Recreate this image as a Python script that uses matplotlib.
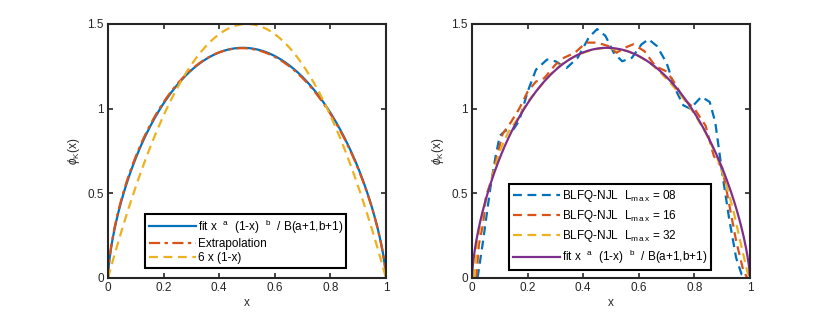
import numpy as np
import matplotlib
matplotlib.use('Agg')
import matplotlib.pyplot as plt
from math import gamma

plt.rcParams['font.family'] = ['Liberation Sans', 'DejaVu Sans']
plt.rcParams['mathtext.fontset'] = 'custom'
plt.rcParams['mathtext.rm'] = 'Liberation Sans'
plt.rcParams['mathtext.it'] = 'Liberation Sans:italic'

# fit parameters of x^a (1-x)^b / B(a+1,b+1)
fit_a, fit_b = 0.66, 0.70
extrap_a, extrap_b = 0.65, 0.70

# BLFQ-NJL curves
x08 = [0.02, 0.04, 0.065, 0.085, 0.10, 0.12, 0.15, 0.17, 0.20, 0.23, 0.27, 0.30, 0.34, 0.38, 0.42, 0.45,
       0.48, 0.51, 0.54, 0.575, 0.61, 0.635, 0.665, 0.70, 0.73, 0.76, 0.785, 0.825, 0.855, 0.875, 0.90,
       0.925, 0.95, 0.97, 0.99]
y08 = [0.0, 0.22, 0.52, 0.72, 0.84, 0.87, 0.88, 0.93, 1.10, 1.23, 1.29, 1.28, 1.24, 1.30, 1.42, 1.47,
       1.43, 1.33, 1.28, 1.30, 1.38, 1.41, 1.37, 1.27, 1.12, 1.02, 1.00, 1.07, 1.04, 0.92, 0.62,
       0.35, 0.12, 0.02, 0.0]
x16 = [0.015, 0.025, 0.04, 0.05, 0.07, 0.09, 0.11, 0.14, 0.17, 0.20, 0.23, 0.26, 0.30, 0.33, 0.37, 0.41,
       0.45, 0.49, 0.52, 0.55, 0.58, 0.62, 0.66, 0.70, 0.73, 0.76, 0.80, 0.84, 0.87, 0.90, 0.92, 0.95,
       0.975, 0.99]
y16 = [0.0, 0.20, 0.32, 0.48, 0.58, 0.72, 0.85, 0.92, 1.00, 1.10, 1.16, 1.18, 1.26, 1.30, 1.33, 1.39,
       1.39, 1.37, 1.33, 1.36, 1.38, 1.34, 1.25, 1.22, 1.15, 1.06, 1.00, 0.90, 0.72, 0.65, 0.48, 0.22,
       0.05, 0.0]
x32 = [0.008, 0.02, 0.04, 0.06, 0.08, 0.10, 0.13, 0.16, 0.20, 0.24, 0.28, 0.32, 0.36, 0.40, 0.44, 0.48,
       0.52, 0.56, 0.60, 0.64, 0.68, 0.72, 0.76, 0.80, 0.84, 0.88, 0.91, 0.94, 0.97, 0.99, 1.0]
y32 = [0.0, 0.22, 0.40, 0.52, 0.64, 0.75, 0.86, 0.93, 1.04, 1.12, 1.20, 1.26, 1.30, 1.33, 1.35, 1.36,
       1.35, 1.34, 1.31, 1.27, 1.21, 1.14, 1.06, 0.97, 0.86, 0.72, 0.58, 0.40, 0.18, 0.04, 0.0]

blue = '#0072BD'
orange = '#D95319'
yellow = '#EDB120'
purple = '#7E2F8E'
axc = '#262626'


def beta_pdf(x, a, b):
    B = gamma(a + 1) * gamma(b + 1) / gamma(a + b + 2)
    return x ** a * (1 - x) ** b / B


x = np.linspace(0, 1, 400)
fit_label = r'fit x  $^{\rm a}$  (1-x)  $^{\rm b}$  / B(a+1,b+1)'

fig = plt.figure(figsize=(8.3, 3.12), dpi=100)
ax1 = fig.add_axes([108 / 830, 34 / 312, 278 / 830, 254 / 312])
ax2 = fig.add_axes([472 / 830, 34 / 312, 278 / 830, 254 / 312])

ax1.plot(x, beta_pdf(x, fit_a, fit_b), color=blue, lw=1.6, label=fit_label)
ax1.plot(x, beta_pdf(x, extrap_a, extrap_b), color=orange, lw=1.6, ls=(0, (5, 2, 1.5, 2)),
         label='Extrapolation')
ax1.plot(x, 6 * x * (1 - x), color=yellow, lw=1.6, ls=(0, (4, 2.5)), label='6 x (1-x)')

ax2.plot(x08, y08, color=blue, lw=1.6, ls=(0, (4, 2.5)), label=r'BLFQ-NJL  L$_{\rm m\,a\,x}$ = 08')
ax2.plot(x16, y16, color=orange, lw=1.6, ls=(0, (4, 2.5)), label=r'BLFQ-NJL  L$_{\rm m\,a\,x}$ = 16')
ax2.plot(x32, y32, color=yellow, lw=1.6, ls=(0, (4, 2.5)), label=r'BLFQ-NJL  L$_{\rm m\,a\,x}$ = 32')
ax2.plot(x, beta_pdf(x, fit_a, fit_b), color=purple, lw=1.6, label=fit_label)

for ax in (ax1, ax2):
    ax.set_xlim(0, 1)
    ax.set_ylim(0, 1.5)
    ax.set_xticks([0, 0.2, 0.4, 0.6, 0.8, 1])
    ax.set_xticklabels(['0', '0.2', '0.4', '0.6', '0.8', '1'])
    ax.set_yticks([0, 0.5, 1, 1.5])
    ax.set_yticklabels(['0', '0.5', '1', '1.5'])
    ax.tick_params(direction='in', top=True, right=True, length=3.5, width=1.2,
                   labelsize=8.5, colors=axc, pad=3)
    for s in ax.spines.values():
        s.set_linewidth(1.5)
        s.set_color(axc)
    ax.set_xlabel('x', fontsize=8.5, color=axc, labelpad=2)
    ax.set_ylabel(r'$\phi_{\rm K}$(x)', fontsize=8.5, color=axc, labelpad=4)

leg1 = ax1.legend(loc='lower left', bbox_to_anchor=(0.133, 0.04), fontsize=8.5, fancybox=False,
                  edgecolor='black', framealpha=1, borderpad=0.3, labelspacing=0.2,
                  handlelength=4.0, handletextpad=0.15, borderaxespad=0)
leg1.get_frame().set_linewidth(1.5)
leg2 = ax2.legend(loc='lower left', bbox_to_anchor=(0.133, 0.03), fontsize=8.5, fancybox=False,
                  edgecolor='black', framealpha=1, borderpad=0.35, labelspacing=0.35,
                  handlelength=4.0, handletextpad=0.15, borderaxespad=0)
leg2.get_frame().set_linewidth(1.5)

fig.savefig('out.png', dpi=100)
